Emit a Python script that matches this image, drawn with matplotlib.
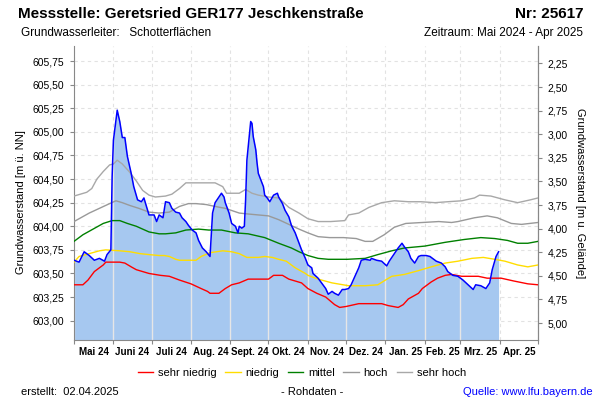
import numpy as np
import matplotlib
matplotlib.use('Agg')
import matplotlib.pyplot as plt

plt.rcParams['font.family'] = ['Liberation Sans', 'DejaVu Sans']

# days since 01.05.2024
month_labels = ['Mai 24', 'Juni 24', 'Juli 24', 'Aug. 24', 'Sept. 24', 'Okt. 24', 'Nov. 24',
                'Dez. 24', 'Jan. 25', 'Feb. 25', 'Mrz. 25', 'Apr. 25']
month_starts = [0, 31, 61, 92, 123, 153, 184, 214, 245, 276, 304, 335, 365]

# measured level (m ü. NN)
blue_days = [0, 4, 8, 12, 16, 20, 24, 26, 29, 30, 31, 34, 36, 38, 40, 42, 45, 47, 50, 53,
             55, 59, 63, 65, 67, 70, 72, 75, 77, 80, 83, 85, 88, 90, 93, 96, 98, 101, 104, 107,
             109, 111, 114, 116, 118, 119, 122, 124, 127, 129, 130, 132, 134, 135, 136, 139, 140, 141, 143, 144,
             145, 147, 149, 150, 152, 154, 157, 160, 161, 164, 166, 169, 171, 174, 177, 179, 182, 184, 187, 188,
             192, 198, 200, 203, 205, 208, 211, 213, 216, 218, 221, 224, 226, 229, 233, 234, 238, 242, 246, 248,
             252, 255, 258, 260, 263, 265, 268, 271, 273, 277, 280, 282, 285, 289, 292, 294, 298, 302, 306, 310,
             314, 316, 320, 324, 327, 329, 332, 334]
blue_level = [603.64, 603.62, 603.73, 603.69, 603.64, 603.66, 603.63, 603.70, 603.75, 604.53, 604.91, 605.23, 605.11, 604.94, 604.94, 604.74, 604.56, 604.42, 604.28, 604.26,
              604.30, 604.12, 604.12, 604.05, 604.12, 604.09, 604.26, 604.25, 604.19, 604.15, 604.14, 604.09, 604.05, 604.01, 603.96, 603.93, 603.85, 603.77, 603.73, 603.68,
              604.14, 604.25, 604.31, 604.35, 604.31, 604.25, 604.14, 604.03, 604.00, 603.93, 604.00, 603.98, 604.00, 604.28, 604.70, 605.11, 605.09, 604.95, 604.81, 604.67,
              604.56, 604.49, 604.42, 604.33, 604.30, 604.26, 604.33, 604.35, 604.31, 604.24, 604.17, 604.10, 604.01, 603.93, 603.82, 603.75, 603.66, 603.59, 603.56, 603.50,
              603.45, 603.34, 603.28, 603.31, 603.29, 603.27, 603.33, 603.33, 603.34, 603.38, 603.47, 603.56, 603.64, 603.65, 603.64, 603.66, 603.64, 603.63, 603.58, 603.63,
              603.71, 603.77, 603.82, 603.78, 603.73, 603.66, 603.61, 603.68, 603.69, 603.69, 603.68, 603.66, 603.63, 603.61, 603.57, 603.52, 603.48, 603.47, 603.43, 603.38,
              603.33, 603.38, 603.37, 603.34, 603.40, 603.54, 603.68, 603.73]

# reference levels
red_days = [0, 7, 11, 16, 23, 25, 30, 36, 40, 45, 49, 59, 68, 75, 83, 92, 100, 105, 107, 114,
            119, 124, 130, 137, 153, 157, 164, 169, 179, 184, 191, 198, 205, 209, 214, 224, 242, 247, 255, 259,
            263, 271, 274, 281, 286, 292, 297, 305, 318, 325, 336, 346, 357, 365]
red_level = [603.38, 603.38, 603.43, 603.52, 603.59, 603.62, 603.62, 603.62, 603.61, 603.57, 603.54, 603.50, 603.48, 603.47, 603.43, 603.39, 603.34, 603.31, 603.29, 603.29,
             603.34, 603.38, 603.40, 603.44, 603.44, 603.48, 603.48, 603.44, 603.40, 603.34, 603.29, 603.25, 603.17, 603.14, 603.15, 603.18, 603.18, 603.16, 603.14, 603.17,
             603.23, 603.29, 603.34, 603.41, 603.45, 603.48, 603.49, 603.47, 603.47, 603.45, 603.45, 603.42, 603.39, 603.38]

yellow_days = [0, 4, 12, 20, 25, 36, 44, 52, 59, 67, 71, 75, 80, 83, 96, 100, 107, 112, 117, 124,
               130, 136, 145, 150, 156, 161, 167, 174, 182, 184, 192, 203, 216, 229, 239, 245, 250, 260, 271, 281,
               292, 302, 313, 322, 331, 339, 349, 357, 365]
yellow_level = [603.62, 603.68, 603.71, 603.74, 603.75, 603.74, 603.73, 603.71, 603.70, 603.69, 603.69, 603.68, 603.65, 603.64, 603.64, 603.68, 603.72, 603.73, 603.74, 603.73,
                603.71, 603.67, 603.67, 603.68, 603.67, 603.65, 603.63, 603.56, 603.50, 603.48, 603.44, 603.40, 603.37, 603.37, 603.38, 603.43, 603.47, 603.49, 603.53, 603.57,
                603.61, 603.63, 603.66, 603.67, 603.65, 603.63, 603.59, 603.57, 603.59]

green_days = [0, 7, 15, 23, 30, 36, 42, 49, 59, 67, 72, 80, 88, 98, 106, 116, 127, 137, 150, 161,
              171, 177, 184, 192, 200, 215, 229, 239, 250, 260, 276, 292, 307, 320, 331, 341, 349, 357, 365]
green_level = [603.84, 603.91, 603.97, 604.03, 604.06, 604.06, 604.03, 604.00, 603.94, 603.92, 603.92, 603.93, 603.96, 603.97, 603.96, 603.96, 603.93, 603.92, 603.88, 603.82,
               603.77, 603.73, 603.69, 603.66, 603.65, 603.65, 603.66, 603.70, 603.74, 603.77, 603.79, 603.83, 603.86, 603.88, 603.87, 603.85, 603.82, 603.82, 603.84]

hoch_days = [0, 4, 12, 20, 28, 33, 38, 44, 51, 59, 67, 75, 83, 90, 96, 104, 111, 119, 130, 137,
             145, 153, 161, 169, 177, 184, 192, 201, 212, 222, 229, 235, 244, 252, 261, 274, 287, 297, 302, 315,
             325, 333, 344, 352, 365]
hoch_level = [604.05, 604.08, 604.14, 604.19, 604.24, 604.27, 604.25, 604.22, 604.19, 604.15, 604.14, 604.15, 604.21, 604.24, 604.24, 604.23, 604.21, 604.19, 604.14, 604.13,
              604.12, 604.11, 604.07, 604.02, 603.97, 603.93, 603.89, 603.88, 603.88, 603.87, 603.84, 603.84, 603.91, 603.99, 604.03, 604.04, 604.05, 604.04, 604.05, 604.09,
              604.11, 604.09, 604.03, 604.02, 604.04]

sehr_hoch_days = [0, 5, 10, 14, 18, 23, 28, 31, 34, 38, 44, 49, 54, 59, 64, 72, 77, 83, 88, 96,
                  104, 111, 117, 120, 130, 135, 140, 145, 153, 161, 169, 177, 184, 192, 202, 213, 216, 224, 232, 242,
                  252, 263, 273, 284, 294, 305, 315, 319, 328, 339, 349, 359, 365]
sehr_hoch_level = [604.32, 604.34, 604.36, 604.40, 604.50, 604.58, 604.65, 604.66, 604.70, 604.66, 604.57, 604.48, 604.38, 604.33, 604.31, 604.32, 604.34, 604.40, 604.46, 604.46,
                   604.46, 604.46, 604.42, 604.35, 604.35, 604.39, 604.35, 604.33, 604.31, 604.30, 604.20, 604.14, 604.08, 604.05, 604.05, 604.06, 604.12, 604.14, 604.20, 604.25,
                   604.27, 604.26, 604.26, 604.25, 604.26, 604.27, 604.30, 604.33, 604.32, 604.28, 604.25, 604.28, 604.30]

ground = 607.975
left_ticks = [603.00, 603.25, 603.50, 603.75, 604.00, 604.25, 604.50, 604.75, 605.00, 605.25, 605.50, 605.75]
right_ticks = [2.25, 2.50, 2.75, 3.00, 3.25, 3.50, 3.75, 4.00, 4.25, 4.50, 4.75, 5.00]

fig = plt.figure(figsize=(6, 4), dpi=100)
ax = fig.add_axes([74 / 600, 60 / 400, 464 / 600, 294 / 400])

ax.set_xlim(0, 365)
ax.set_ylim(602.795, 605.91)

# grid below everything
for y in left_ticks:
    ax.axhline(y, color='#e2e2e2', lw=0.8, ls=(0, (3, 3)), zorder=0)
for d in month_starts:
    ax.axvline(d, color='#e2e2e2', lw=0.8, ls=(0, (3, 3)), zorder=0)

fill = ax.fill_between(blue_days, 602.795, blue_level, color='#a6c8f0', lw=0, zorder=1)
vl = ax.vlines(month_starts, 602.795, 605.91, color='#e6e6e6', lw=1.0, zorder=2)
vl.set_clip_path(fill.get_paths()[0], ax.transData)

ax.plot(red_days, red_level, color='#ff0000', lw=1.0, zorder=3, label='sehr niedrig')
ax.plot(yellow_days, yellow_level, color='#ffdd00', lw=1.0, zorder=3, label='niedrig')
ax.plot(green_days, green_level, color='#008000', lw=1.0, zorder=3, label='mittel')
ax.plot(hoch_days, hoch_level, color='#999999', lw=1.0, zorder=3, label='hoch')
ax.plot(sehr_hoch_days, sehr_hoch_level, color='#a8a8a8', lw=1.0, zorder=3, label='sehr hoch')
ax.plot(blue_days, blue_level, color='#0000ff', lw=1.1, zorder=4)

for s in ['left', 'right', 'bottom']:
    ax.spines[s].set_color('#888888')
ax.spines['top'].set_visible(False)

ax.set_yticks(left_ticks)
ax.set_yticklabels([f'{v:.2f}'.replace('.', ',') for v in left_ticks], fontsize=7.5)
ax.tick_params(axis='y', length=3, color='#888888', pad=4)

ax.set_xticks(month_starts)
ax.set_xticklabels([''] * len(month_starts))
mids = [(month_starts[i] + month_starts[i + 1]) / 2 for i in range(12)]
ax.set_xticks(mids, minor=True)
ax.set_xticklabels(month_labels, minor=True, fontsize=7, fontweight='bold')
ax.tick_params(axis='x', which='major', length=3, color='#888888')
ax.tick_params(axis='x', which='minor', length=0, pad=5)

ax2 = ax.secondary_yaxis('right', functions=(lambda y: ground - y, lambda d: ground - d))
ax2.set_yticks(right_ticks)
ax2.set_yticklabels([f'{v:.2f}'.replace('.', ',') for v in right_ticks], fontsize=7.5)
ax2.tick_params(length=3, color='#888888', pad=4)
ax2.spines['right'].set_color('#888888')

fig.text(0.035, 0.495, 'Grundwasserstand [m ü. NN]', rotation=90, ha='center', va='center', fontsize=8)
fig.text(0.967, 0.517, 'Grundwasserstand [m u. Gelände]', rotation=270, ha='center', va='center', fontsize=8)

fig.text(0.03, 0.965, 'Messstelle: Geretsried GER177 Jeschkenstraße', fontsize=11, fontweight='bold', va='center')
fig.text(0.972, 0.965, 'Nr: 25617', fontsize=11, fontweight='bold', va='center', ha='right')
fig.text(0.035, 0.917, 'Grundwasserleiter:   Schotterflächen', fontsize=8.5, va='center')
fig.text(0.972, 0.917, 'Zeitraum: Mai 2024 - Apr 2025', fontsize=8.5, va='center', ha='right')

fig.legend(loc='center', bbox_to_anchor=(0.503, 0.067), ncol=5, frameon=False, fontsize=8,
           handlelength=1.4, handletextpad=0.4, columnspacing=0.8)

fig.text(0.035, 0.02, 'erstellt:  02.04.2025', fontsize=8, va='center')
fig.text(0.52, 0.02, '- Rohdaten -', fontsize=8, va='center', ha='center')
fig.text(0.987, 0.02, 'Quelle: www.lfu.bayern.de', fontsize=8, va='center', ha='right', color='#0000ff')

fig.savefig('out.png', dpi=100)
